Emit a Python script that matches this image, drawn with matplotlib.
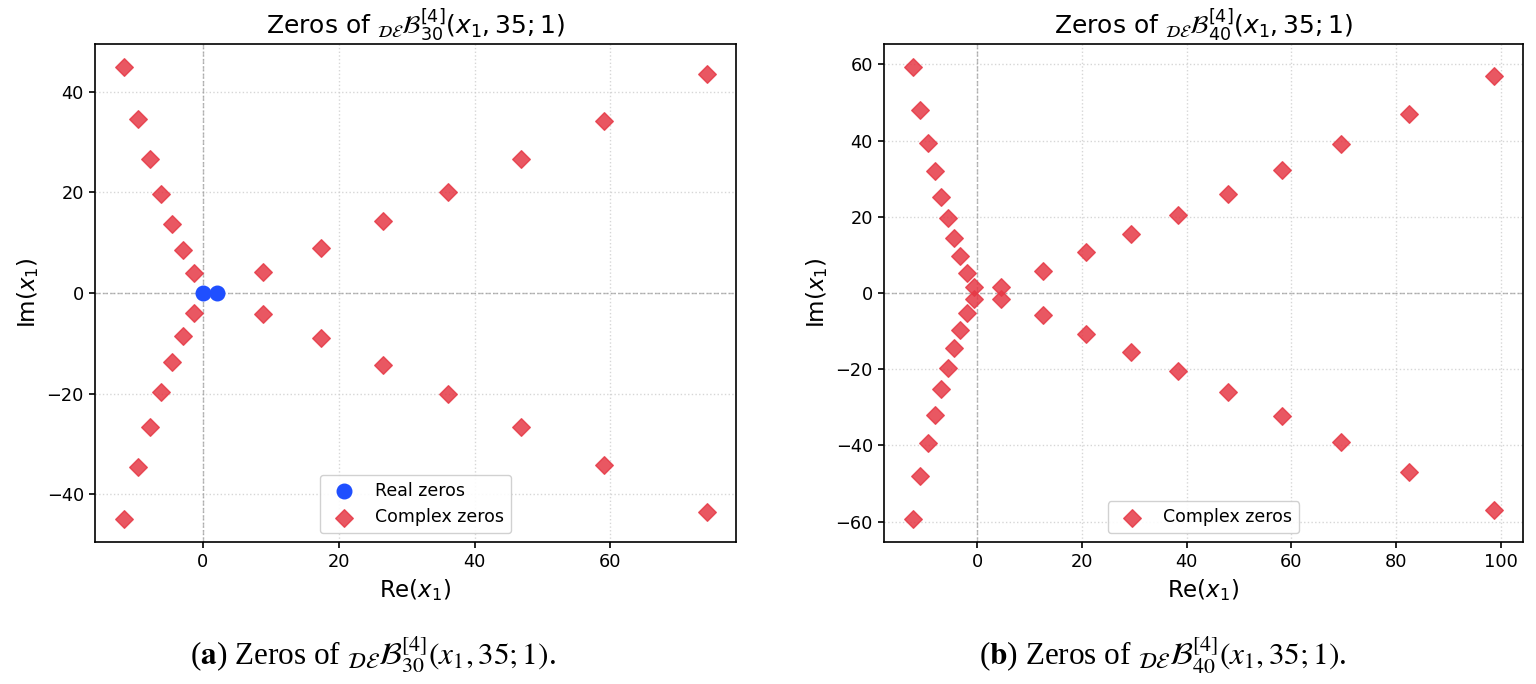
import matplotlib
matplotlib.use("Agg")
import matplotlib.pyplot as plt
import numpy as np

# ---- Data ----
# Panel (a): n = 30
a_real_x = [0.0, 2.0]
a_real_y = [0.0, 0.0]
a_upper_left_re = [-11.6, -9.6, -7.8, -6.2, -4.6, -2.95, -1.3]
a_upper_left_im = [45.0, 34.5, 26.6, 19.6, 13.7, 8.5, 4.0]
a_upper_right_re = [8.8, 17.4, 26.5, 36.1, 46.8, 59.0, 74.2]
a_upper_right_im = [4.2, 9.0, 14.3, 20.0, 26.7, 34.2, 43.6]

# Panel (b): n = 40
b_upper_left_re = [-12.3, -10.9, -9.5, -8.1, -6.9, -5.7, -4.5, -3.3, -2.0, -0.6]
b_upper_left_im = [59.4, 48.0, 39.4, 31.9, 25.3, 19.6, 14.4, 9.6, 5.2, 1.7]
b_upper_right_re = [4.5, 12.5, 20.8, 29.3, 38.3, 47.8, 58.2, 69.5, 82.5, 98.7]
b_upper_right_im = [1.7, 5.9, 10.7, 15.4, 20.5, 26.0, 32.3, 39.1, 46.9, 56.9]


def conj_pairs(re_list, im_list):
    re = list(re_list) + list(re_list)
    im = list(im_list) + [-v for v in im_list]
    return re, im


a_cre, a_cim = conj_pairs(a_upper_left_re + a_upper_right_re,
                          a_upper_left_im + a_upper_right_im)
b_cre, b_cim = conj_pairs(b_upper_left_re + b_upper_right_re,
                          b_upper_left_im + b_upper_right_im)

RED = "#E63946"
BLUE = "#1F4FFF"

fig = plt.figure(figsize=(15.36, 6.84), dpi=100)
ax1 = fig.add_axes([95 / 1536, (684 - 542) / 684, (736 - 95) / 1536, (542 - 44) / 684])
ax2 = fig.add_axes([884 / 1536, (684 - 542) / 684, (1523 - 884) / 1536, (542 - 44) / 684])


def style(ax, title):
    ax.axhline(0, color="gray", linestyle="--", linewidth=1.0, alpha=0.5, zorder=1)
    ax.axvline(0, color="gray", linestyle="--", linewidth=1.0, alpha=0.5, zorder=1)
    ax.grid(True, linestyle=":", color="#cccccc", linewidth=1.0, alpha=0.8)
    ax.set_axisbelow(True)
    for sp in ax.spines.values():
        sp.set_linewidth(1.2)
    ax.set_title(title, fontsize=18, pad=7)
    ax.set_xlabel(r"Re$(x_1)$", fontsize=16.5)
    ax.set_ylabel(r"Im$(x_1)$", fontsize=16.5)
    ax.tick_params(labelsize=12.8, width=1.2, length=4.5)
    ax.legend(loc="lower center", fontsize=12.5, framealpha=0.9)


ax1.scatter(a_real_x, a_real_y, s=110, color=BLUE, zorder=3, label="Real zeros")
ax1.scatter(a_cre, a_cim, s=80, marker="D", color=RED, alpha=0.85,
            zorder=3, label="Complex zeros")
style(ax1, r"Zeros of ${}_{\mathcal{DE}}\mathcal{B}_{30}^{[4]}(x_1, 35; 1)$")

ax2.scatter(b_cre, b_cim, s=80, marker="D", color=RED, alpha=0.85,
            zorder=3, label="Complex zeros")
style(ax2, r"Zeros of ${}_{\mathcal{DE}}\mathcal{B}_{40}^{[4]}(x_1, 35; 1)$")

cap_kw = dict(ha="center", va="center", fontsize=22.5, family="Liberation Serif",
              math_fontfamily="stix")
fig.text(373 / 1536, 1 - 655 / 684,
         r"($\mathbf{a}$) Zeros of ${}_{\mathcal{DE}}\mathcal{B}_{30}^{[4]}(x_1, 35; 1)$.",
         **cap_kw)
fig.text(1163 / 1536, 1 - 655 / 684,
         r"($\mathbf{b}$) Zeros of ${}_{\mathcal{DE}}\mathcal{B}_{40}^{[4]}(x_1, 35; 1)$.",
         **cap_kw)

fig.savefig("out.png", dpi=100)
